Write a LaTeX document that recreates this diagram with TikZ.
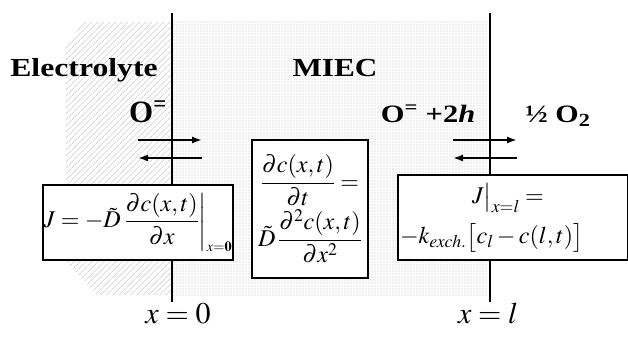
\documentclass[tikz,border=0pt]{standalone}
\usepackage{mathptmx}
\usepackage[no-math]{fontspec}
\setmainfont{Liberation Serif}
\usepackage{graphicx}
\usepackage{xcolor}
\definecolor{ink}{HTML}{000000}
\definecolor{hatch}{HTML}{D6D6D6}
\definecolor{speck}{HTML}{BABABA}
\usetikzlibrary{arrows.meta,positioning,patterns.meta}
\tikzset{
  every picture/.style={line width=1.6pt},
  heading/.style={font=\bfseries\fontsize{26}{30}\selectfont, inner sep=0pt, anchor=base},
  species/.style={font=\bfseries\fontsize{25}{28}\selectfont, inner sep=0pt, anchor=base},
  eqbox/.style={draw=ink, fill=white, line width=1.5pt, inner sep=0pt, align=center, font=\fontsize{24}{28}\selectfont},
  boundary/.style={draw=ink, line width=2pt},
  arrow/.style={-{Latex[length=10pt,width=7pt]}, draw=ink, line width=1.8pt},
  position/.style={font=\fontsize{30}{34}\selectfont, inner sep=0pt, anchor=base},
}
\newcommand{\wide}[2]{\scalebox{#1}[1]{#2}}

\begin{document}
\begin{tikzpicture}[x=1pt,y=1pt]
  \useasboundingbox (0,0) rectangle (628,337);
  % electrolyte (hatched) and MIEC (dotted)
  \fill[pattern={Lines[angle=45,distance=4pt,line width=1pt]}, pattern color=hatch]
    (83,315) -- (172,315) -- (172,42) -- (97,42) -- (67,75) -- (65,289) -- cycle;
  \fill[pattern={Dots[distance=3pt,radius=0.6pt]}, pattern color=speck] (172,42) rectangle (487,315);
  % positions
  \node[position] (xzero) at (178,14) {$x=0$};
  \node[position] (xell) at (488,14) {$x=l$};
  \coordinate (ltop) at (172,324);
  \coordinate (rtop) at (490,324);
  \draw[boundary] (ltop) -- (ltop |- xzero.north);
  \draw[boundary] (rtop) -- (rtop |- xell.north);
  % exchange arrows
  \coordinate (lw1) at (138,197); \coordinate (le1) at (202,197);
  \coordinate (lw2) at (138,179); \coordinate (le2) at (202,179);
  \coordinate (rw1) at (453,197); \coordinate (re1) at (517,197);
  \coordinate (rw2) at (453,179); \coordinate (re2) at (517,179);
  \draw[arrow] (lw1) -- (le1);
  \draw[arrow] (le2) -- (lw2);
  \draw[arrow] (rw1) -- (re1);
  \draw[arrow] (re2) -- (rw2);
  % labels
  \node[heading] (electrolyte) at (84,260) {\wide{1.22}{Electrolyte}};
  \node[heading] (miec) at (335,260) {\wide{1.2}{MIEC}};
  \node[species, font=\bfseries\fontsize{31}{34}\selectfont] (oxleft) at (148,214) {O\textsuperscript{=}};
  \node[species] (oxright) at (428,214) {\wide{1.22}{O\textsuperscript{=} +2\textit{h}}};
  \node[species] (oxygen) at (558,214) {\wide{1.2}{½ O\textsubscript{2}}};
  % equations
  \node[eqbox, minimum width=190pt, minimum height=75pt] (fluxzero) at (138,114.5)
    {$\displaystyle J=-\tilde{D}\left.\frac{\partial c(x,t)}{\partial x}\right|_{\scriptscriptstyle x=\mathbf{0}}$};
  \node[eqbox, minimum width=116pt, minimum height=138pt] (fick) at (310,128)
    {$\displaystyle\frac{\partial c(x,t)}{\partial t}=$\\[2pt]
     $\displaystyle\tilde{D}\,\frac{\partial^2 c(x,t)}{\partial x^2}$};
  \node[eqbox, align=left, text width=226pt, inner xsep=2pt, minimum height=85pt,
        font=\fontsize{24}{40}\selectfont] (fluxell) at (513,119.5)
    {\hspace*{72pt}$J\big|_{x=l}=$\\
     $-k_{\mathit{exch.}}\big[c_l-c(l,t)\big]$};
\end{tikzpicture}
\end{document}
